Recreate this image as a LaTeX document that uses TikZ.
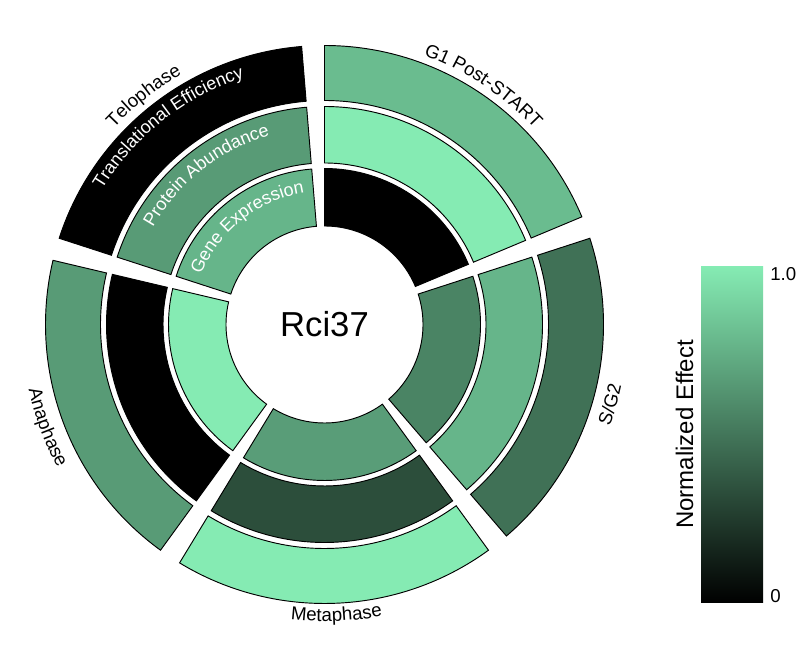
\documentclass[tikz,border=0pt]{standalone}
\usepackage{fontspec}
\setmainfont{Liberation Sans}
\usetikzlibrary{decorations.text}
\definecolor{mint}{RGB}{133,235,179}
\newcommand\phasefont{\fontsize{14}{16}\selectfont}
\newcommand\ringfont{\fontsize{13.5}{16}\selectfont\color{white}}
\newcommand\rcell[5]{\filldraw[cellbox,fill=#5] ([shift={(#1:#3)}]C) arc[start angle=#1,end angle=#2,radius=#3] -- ([shift={(#2:#4)}]C) arc[start angle=#2,end angle=#1,radius=#4] -- cycle;}
\newcommand\toplabel[4]{\path[decorate,decoration={text along path,text align=center,text={|#4|#3}}] ([shift={(#1:#2)}]C) arc[start angle=#1,end angle=#1-67.3,radius=#2];}
\newcommand\botlabel[4]{\path[decorate,decoration={text along path,text align=center,text={|#4|#3}}] ([shift={(#1:#2)}]C) arc[start angle=#1,end angle=#1+67.3,radius=#2];}
\begin{document}
\begin{tikzpicture}[x=0.75pt,y=0.75pt]
\tikzset{cellbox/.style={draw=black,line width=0.7pt,line join=miter}}
\useasboundingbox (0,0) rectangle (800,650);
\fill[white] (0,0) rectangle (800,650);
\coordinate (C) at (324.5,325.5);
% G1 Post-START
\rcell{90}{22.7}{98.5}{156}{black}
\rcell{90}{22.7}{161.5}{218}{mint}
\rcell{90}{22.7}{224}{279}{mint!80!black}
% S/G2
\rcell{18}{-49.3}{98.5}{156}{mint!56!black}
\rcell{18}{-49.3}{161.5}{218}{mint!77!black}
\rcell{18}{-49.3}{224}{279}{mint!48!black}
% Metaphase
\rcell{-54}{-121.3}{98.5}{156}{mint!67!black}
\rcell{-54}{-121.3}{161.5}{218}{mint!33!black}
\rcell{-54}{-121.3}{224}{279}{mint}
% Anaphase
\rcell{-126}{-193.3}{98.5}{156}{mint}
\rcell{-126}{-193.3}{161.5}{218}{black}
\rcell{-126}{-193.3}{224}{279}{mint!66!black}
% Telophase
\rcell{162}{94.7}{98.5}{156}{mint!77!black}
\rcell{162}{94.7}{161.5}{218}{mint!66!black}
\rcell{162}{94.7}{224}{279}{black}
% phase labels
\toplabel{90}{287}{G1 Post-START}{\phasefont}
\toplabel{162}{288}{Telophase}{\phasefont}
\botlabel{-49.3}{303}{S/G2}{\phasefont}
\botlabel{-121.3}{297}{Metaphase}{\phasefont}
\botlabel{-193.3}{303}{Anaphase}{\phasefont}
% ring labels
\toplabel{162}{133}{Gene Expression}{\ringfont}
\toplabel{162}{197}{Protein Abundance}{\ringfont}
\toplabel{162}{260}{Translational Efficiency}{\ringfont}
% centre
\node[inner sep=0] (title) at (C) {\fontsize{26}{30}\selectfont Rci37};
% colour bar
\shade[bottom color=black,top color=mint] (701,47) rectangle (763,383);
\node[anchor=north west,inner sep=0] (top) at (770,383) {\fontsize{14}{16}\selectfont 1.0};
\node[anchor=south west,inner sep=0] (bot) at (770,47) {\fontsize{14}{16}\selectfont 0};
\node[rotate=90,anchor=base,inner sep=0] (lab) at (693,215.5) {\fontsize{18}{20}\selectfont Normalized Effect};
\end{tikzpicture}
\end{document}
